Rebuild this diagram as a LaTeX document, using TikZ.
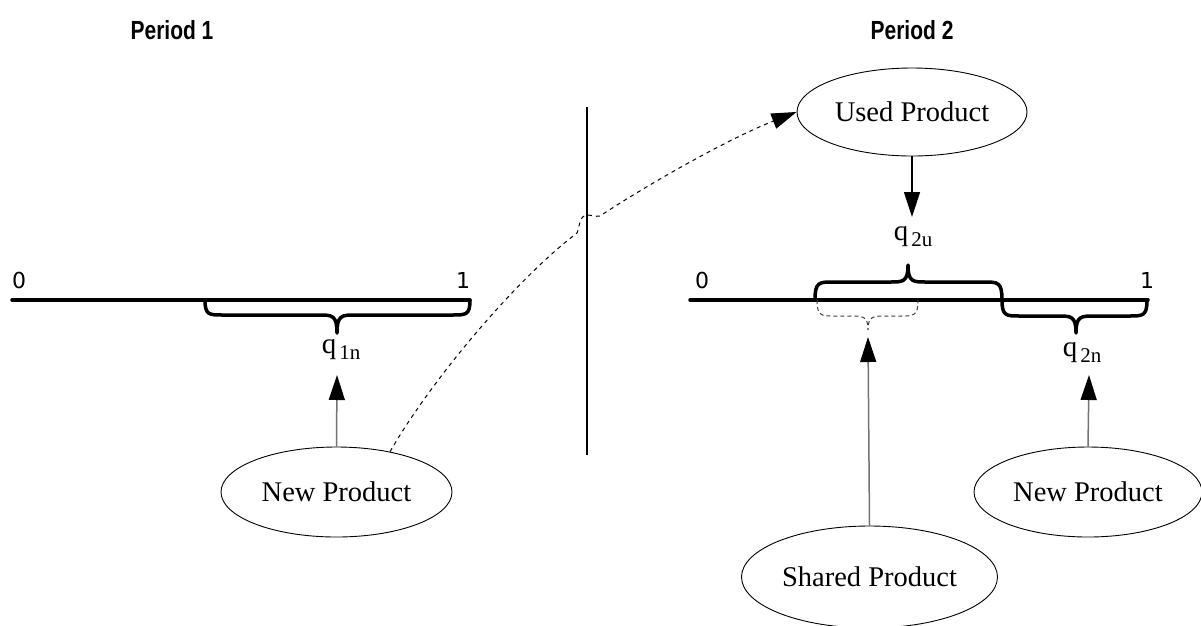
\documentclass[tikz,border=0pt]{standalone}
\usepackage{fontspec}
\setmainfont{Liberation Serif}
\newfontfamily\hdfont{Liberation Sans}
\newfontfamily\numfont{DejaVu Sans}
\usetikzlibrary{shapes.geometric,arrows.meta}
\newcommand{\mybrace}[7]{% style, x1, x2, xm, y0, yflat, ytip
  \draw[#1] (#2,#5) .. controls (#2,#6) and (#2+4,#6) .. (#2+18,#6) -- (#4-18,#6)
    .. controls (#4-5,#6) and (#4,#6) .. (#4,#7)
    .. controls (#4,#6) and (#4+5,#6) .. (#4+18,#6) -- (#3-18,#6)
    .. controls (#3-4,#6) and (#3,#6) .. (#3,#5);}
\newcommand{\qlab}[2]{{\fontsize{29}{32}\selectfont q}\hspace{3pt}\raisebox{-6pt}{\fontsize{21}{24}\selectfont #1#2}}
\begin{document}
\begin{tikzpicture}[x=1pt,y=-1pt,
  prod/.style={ellipse,draw=black,line width=0.9pt,inner sep=0pt,font=\fontsize{28.5}{32}\selectfont},
  period/.style={font=\hdfont\bfseries\fontsize{21}{24}\selectfont},
  num/.style={font=\numfont\fontsize{22}{26}\selectfont},
  axis/.style={line width=3.5pt,line cap=round},
  bracestyle/.style={line width=3.5pt,line cap=round,line join=round},
  thinbrace/.style={line width=1pt,dash pattern=on 4pt off 3pt,draw=black!75},
  uparrow/.style={draw=black!55,line width=1.5pt,-{Triangle[length=25pt,width=16pt,color=black]}},
  downarrow/.style={draw=black,line width=1.2pt,-{Triangle[length=25pt,width=16pt,color=black]}},
  dasharrow/.style={draw=black,line width=1pt,dash pattern=on 4pt off 4pt,-{Triangle[length=25pt,width=16pt,color=black]}},
  qlabel/.style={anchor=base,inner sep=0pt}]
\useasboundingbox (0,0) rectangle (1201,625);

% headings
\node[period] (p1) at (172,30) {\scalebox{1}[1.25]{Period 1}};
\node[period] (p2) at (912,30) {\scalebox{1}[1.25]{Period 2}};

% divider
\coordinate (dtop) at (587,107);
\coordinate (dbot) at (587,455);
\draw[line width=1.8pt] (dtop) -- (dbot);

% left axis
\coordinate (l0) at (12,300);
\coordinate (l1) at (470,300);
\draw[axis] (l0) -- (l1);
\node[num] (l0lab) at (19,280) {0};
\node[num] (l1lab) at (463,280) {1};
\mybrace{bracestyle}{205}{470}{337}{300}{315}{333}
\node[qlabel] (q1n) at (341,353) {\qlab{1}{n}};

% right axis
\coordinate (r0) at (690,300);
\coordinate (r1) at (1148,300);
\draw[axis] (r0) -- (r1);
\node[num] (r0lab) at (702,280) {0};
\node[num] (r1lab) at (1147,280) {1};
\mybrace{bracestyle}{815}{1002}{908}{300}{282}{265}
\mybrace{bracestyle}{1002}{1147}{1076}{300}{316}{333}
\mybrace{thinbrace}{817}{918}{868}{300}{316}{330}
\node[qlabel] (q2u) at (913,240) {\qlab{2}{u}};
\node[qlabel] (q2n) at (1082,356) {\qlab{2}{n}};

% products
\node[prod,minimum width=231pt,minimum height=90pt] (np1) at (336.5,492) {New Product};
\node[prod,minimum width=230pt,minimum height=88pt] (used) at (912,112) {Used Product};
\node[prod,minimum width=256pt,minimum height=102pt] (shared) at (869.5,577) {Shared Product};
\node[prod,minimum width=228pt,minimum height=90pt] (np2) at (1088,492) {New Product};

% arrow targets
\coordinate (t1) at (337,375);
\coordinate (tu) at (912,217);
\coordinate (ts) at (868,337);
\coordinate (t2) at (1089,375);

\draw[uparrow] (np1.north) -- (t1);
\draw[downarrow] (used.south) -- (tu);
\draw[uparrow] (shared.north) -- (ts);
\draw[uparrow] (np2.north) -- (t2);

% dashed transfer
\draw[dasharrow] (np1.37) .. controls (430,382) and (515,280) .. (577,233)
  .. controls (580,226) and (579,216) .. (587,215)
  .. controls (592,215) and (595,217) .. (600,216)
  .. controls (650,183) and (730,138) .. (used.west);
\end{tikzpicture}
\end{document}
